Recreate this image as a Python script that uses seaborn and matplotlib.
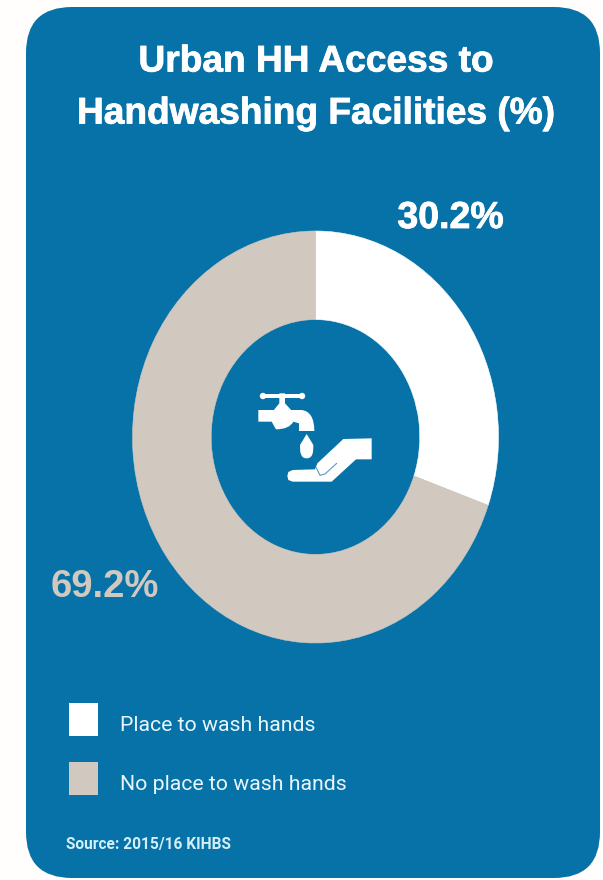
import matplotlib
matplotlib.use("Agg")
import matplotlib.pyplot as plt
import matplotlib.patheffects as pe
import seaborn as sns
from matplotlib.patches import FancyBboxPatch, Polygon, Circle, Rectangle, PathPatch
from matplotlib.path import Path

categories = ["Place to wash hands", "No place to wash hands"]
shares = [30.2, 69.2]
share_labels = ["30.2%", "69.2%"]
title_lines = ["Urban HH Access to", "Handwashing Facilities (%)"]
source_note = "Source: 2015/16 KIHBS"

BLUE = "#0672a8"
WHITE = "#ffffff"
TAUPE = "#d1c9bf"
W, H = 603, 880

sns.set_theme(style="white")
plt.rcParams["font.family"] = ["Liberation Sans", "DejaVu Sans"]
sns.set_palette([WHITE, TAUPE])

fig = plt.figure(figsize=(W / 100, H / 100), dpi=100, facecolor="#fffefc")

# Card and free-standing text live on a canvas measured in pixels
canvas = fig.add_axes([0, 0, 1, 1], zorder=0)
canvas.set_xlim(0, W)
canvas.set_ylim(H, 0)
canvas.axis("off")
corner = 46
canvas.add_patch(FancyBboxPatch((26 + corner, 7 + corner), 574 - 2 * corner, 871 - 2 * corner,
                                boxstyle=f"round,pad={corner},rounding_size={corner}",
                                fc=BLUE, ec="none"))

heavy = [pe.withStroke(linewidth=0.6, foreground=WHITE)]
for y, line in zip([62, 114], title_lines):
    canvas.text(316.5, y, line, color=WHITE, fontsize=26.7, fontweight="bold",
                ha="center", va="center", path_effects=heavy)
canvas.text(450.5, 218, share_labels[0], color=WHITE, fontsize=27, fontweight="bold",
            ha="center", va="center", path_effects=heavy)
canvas.text(105, 587, share_labels[1], color=TAUPE, fontsize=27.5, fontweight="bold",
            ha="center", va="center")
canvas.text(66, 845, source_note, color="#d4eef8", fontsize=11.2, fontweight="bold",
            family="Roboto", ha="left", va="center")

# Donut, slightly taller than wide
cx, cy, rx, ry = 315.5, 437, 183, 206
hole_fraction = 0.57
donut = fig.add_axes([(cx - rx) / W, 1 - (cy + ry) / H, 2 * rx / W, 2 * ry / H], zorder=1)
colors = sns.color_palette(n_colors=2)
wedges, _ = donut.pie(shares, colors=colors, startangle=90, counterclock=False, radius=1,
                      wedgeprops=dict(width=1 - hole_fraction, linewidth=0.4))
for wedge, colour in zip(wedges, colors):
    wedge.set_edgecolor(colour)
donut.set_aspect("auto")
donut.set_xlim(-1, 1)
donut.set_ylim(-1, 1)

# Tap and hand pictogram, drawn on its own pixel-based overlay
icon = fig.add_axes([0, 0, 1, 1], zorder=2)
icon.set_xlim(0, W)
icon.set_ylim(H, 0)
icon.axis("off")
icon.patch.set_alpha(0)


def px(points):
    return [(230 + x / 3, 370 + y / 3) for x, y in points]


icon.add_patch(Rectangle((263, 394.5), 39, 3.5, fc=WHITE, ec="none"))
icon.add_patch(Circle((263, 396), 3.2, fc=WHITE, ec="none"))
icon.add_patch(Circle((302, 396), 3.2, fc=WHITE, ec="none"))
icon.add_patch(Polygon(px([(148, 70), (165, 70), (165, 100), (185, 122), (130, 122), (148, 100)]),
                       fc=WHITE, ec="none"))
tap = Path(px([(85, 120), (130, 120), (190, 120), (215, 120), (253, 125), (253, 183),
               (207, 183), (207, 160), (190, 155), (178, 178), (138, 178), (125, 155),
               (85, 155), (85, 120)]),
           [Path.MOVETO, Path.LINETO, Path.LINETO, Path.LINETO, Path.CURVE3, Path.CURVE3,
            Path.LINETO, Path.LINETO, Path.LINETO, Path.CURVE3, Path.CURVE3, Path.LINETO,
            Path.LINETO, Path.CLOSEPOLY])
icon.add_patch(PathPatch(tap, fc=WHITE, ec="none"))
drop = Path(px([(230, 192), (250, 225), (250, 243), (250, 265), (230, 265), (210, 265),
                (210, 243), (210, 225), (230, 192)]),
            [Path.MOVETO, Path.LINETO, Path.CURVE4, Path.CURVE4, Path.CURVE4,
             Path.CURVE4, Path.CURVE4, Path.LINETO, Path.CLOSEPOLY])
icon.add_patch(PathPatch(drop, fc=WHITE, ec="none"))
icon.add_patch(Polygon(px([(340, 207), (425, 205), (425, 268), (378, 268), (305, 335),
                           (188, 335), (175, 330), (172, 318), (175, 306), (188, 300),
                           (255, 298), (262, 280)]),
                       fc=WHITE, ec="none"))
icon.plot(*zip(*px([(258, 292), (270, 316), (285, 312), (320, 280)])), color="#5a9cc0", lw=0.8)

# Legend built from the two wedge colours
handles = [Rectangle((0, 0), 1, 1, fc=c, ec="none") for c in colors]
legend = fig.legend(handles, categories, loc="upper left",
                    bbox_to_anchor=(68.5 / W, 1 - 703 / H), frameon=False,
                    handlelength=1.39, handleheight=2.03,
                    handletextpad=1.03, labelspacing=1.2, borderpad=0, borderaxespad=0,
                    prop={"family": "Roboto", "size": 15.3})
for t in legend.get_texts():
    t.set_color("#e8f6fb")
    t.set_y(-4.5)

fig.savefig("out.png", dpi=100, facecolor=fig.get_facecolor())
